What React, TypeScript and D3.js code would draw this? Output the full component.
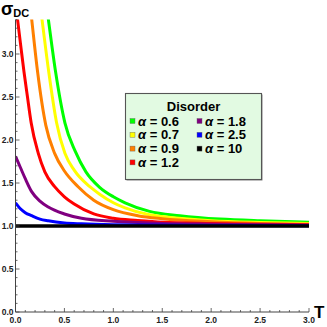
import * as d3 from "d3"
import React from "react"

// series (T, sigma_DC)
const tGreen = [0.31, 0.335, 0.41, 0.505, 0.61, 0.72, 0.86, 1.0, 1.12, 1.37, 1.68, 2.09, 2.5, 3.0]
const sGreen = [3.62, 3.41, 2.79, 2.2, 1.87, 1.63, 1.45, 1.34, 1.27, 1.17, 1.12, 1.08, 1.06, 1.045]

const tYellow = [0.245, 0.27, 0.34, 0.42, 0.505, 0.6, 0.76, 0.86, 1.0, 1.12, 1.37, 1.5, 2.0, 2.5, 3.0]
const sYellow = [3.63, 3.41, 2.79, 2.2, 1.845, 1.65, 1.457, 1.37, 1.27, 1.21, 1.13, 1.11, 1.06, 1.04, 1.03]

const tOrange = [0.14, 0.165, 0.226, 0.31, 0.4, 0.5, 0.64, 0.8, 1.0, 1.25, 1.5, 2.0, 2.5, 3.0]
const sOrange = [3.67, 3.41, 2.79, 2.17, 1.845, 1.64, 1.457, 1.3, 1.19, 1.12, 1.085, 1.05, 1.03, 1.02]

const tRed = [0.0, 0.02, 0.05, 0.087, 0.12, 0.16, 0.233, 0.3, 0.4, 0.5, 0.6, 0.8, 1.0, 1.25, 1.5, 2.0, 2.5, 3.0]
const sRed = [3.6, 3.41, 3.13, 2.79, 2.52, 2.2, 1.845, 1.63, 1.457, 1.34, 1.255, 1.14, 1.09, 1.065, 1.045, 1.03, 1.02, 1.015]

const tPurple = [0.0, 0.05, 0.1, 0.165, 0.25, 0.335, 0.5, 0.675, 1.0, 1.5, 2.0, 3.0]
const sPurple = [1.81, 1.68, 1.55, 1.4, 1.29, 1.22, 1.14, 1.09, 1.055, 1.03, 1.02, 1.01]

const tBlue = [0.0, 0.05, 0.1, 0.165, 0.25, 0.335, 0.5, 0.675, 1.0, 2.0, 3.0]
const sBlue = [1.27, 1.2, 1.155, 1.12, 1.08, 1.06, 1.035, 1.025, 1.015, 1.005, 1.003]

const tBlack = [0.0, 3.0]
const sBlack = [1.0, 1.0]

const alphas = ["0.6", "0.7", "0.9", "1.2", "1.8", "2.5", "10"]
const colors = ["#00ff00", "#ffff00", "#ff8000", "#ff0000", "#800080", "#0000ff", "#000000"]
const seriesT = [tGreen, tYellow, tOrange, tRed, tPurple, tBlue, tBlack]
const seriesS = [sGreen, sYellow, sOrange, sRed, sPurple, sBlue, sBlack]

const xTicks = [0, 0.5, 1, 1.5, 2, 2.5, 3]
const yTicks = [0, 0.5, 1, 1.5, 2, 2.5, 3]

const W = 327
const H = 327
const font = "'Liberation Sans', Arial, sans-serif"
const axisColor = "#444"

export default function App() {
  const x = d3.scaleLinear().domain([0, 3]).range([15.5, 309])
  const y = d3.scaleLinear().domain([0, 3.4]).range([312, 19.6])

  const line = d3
    .line<[number, number]>()
    .x((d) => x(d[0]))
    .y((d) => y(d[1]))
    .curve(d3.curveMonotoneX)

  const minorX = d3.range(0, 3.001, 0.1)
  const minorY = d3.range(0, 3.401, 0.1)

  // legend layout: 4 rows in the first column, 3 in the second
  const legendRow = (i: number) => (i < 4 ? i : i - 4)
  const legendCol = (i: number) => (i < 4 ? 0 : 1)

  return (
    <svg
      width={W}
      height={H}
      viewBox={`0 0 ${W} ${H}`}
      style={{ position: "absolute", left: 0, top: 0, background: "#fff" }}
      fontFamily={font}
    >
      <defs>
        <clipPath id="plot">
          <rect x={x(0)} y={y(3.4)} width={x(3) - x(0) + 2} height={y(0) - y(3.4)} />
        </clipPath>
      </defs>

      <g clipPath="url(#plot)">
        {seriesT.map((ts, i) => (
          <path
            key={alphas[i]}
            d={line(ts.map((t, j) => [t, seriesS[i][j]] as [number, number])) || ""}
            fill="none"
            stroke={colors[i]}
            strokeWidth={i === 6 ? 3.6 : 3}
          />
        ))}
      </g>

      {/* x axis */}
      <line x1={x(0)} x2={x(3)} y1={y(0)} y2={y(0)} stroke={axisColor} strokeWidth={1} />
      {minorX.map((v) => {
        const major = Math.abs(v * 2 - Math.round(v * 2)) < 1e-6
        return (
          <line
            key={"mx" + v}
            x1={x(v)}
            x2={x(v)}
            y1={y(0)}
            y2={y(0) - (major ? 4 : 2)}
            stroke={axisColor}
            strokeWidth={0.8}
          />
        )
      })}
      {xTicks.map((v) => (
        <text
          key={"xl" + v}
          x={x(v)}
          y={y(0) + 11}
          textAnchor="middle"
          fontSize={8.5}
          fontWeight="bold"
          fill="#222"
        >
          {v.toFixed(1)}
        </text>
      ))}

      {/* y axis */}
      <line x1={x(0)} x2={x(0)} y1={y(0)} y2={y(3.4)} stroke={axisColor} strokeWidth={1} />
      {minorY.map((v) => {
        const major = Math.abs(v * 2 - Math.round(v * 2)) < 1e-6
        return (
          <line
            key={"my" + v}
            x1={x(0)}
            x2={x(0) + (major ? 4 : 2)}
            y1={y(v)}
            y2={y(v)}
            stroke={axisColor}
            strokeWidth={0.8}
          />
        )
      })}
      {yTicks.map((v) => (
        <text
          key={"yl" + v}
          x={x(0) - 2}
          y={y(v) + 3}
          textAnchor="end"
          fontSize={8.5}
          fontWeight="bold"
          fill="#222"
        >
          {v.toFixed(1)}
        </text>
      ))}

      {/* axis labels */}
      <text x={1} y={14.5} fontSize={18} fontWeight="bold" fill="#000">
        σ
        <tspan fontSize={11} dy={2.5}>DC</tspan>
      </text>
      <text x={314} y={318} fontSize={17} fontWeight="bold" fill="#000">
        T
      </text>

      {/* legend */}
      <rect x={126.5} y={94.5} width={136} height={86} fill="#888" />
      <rect x={125.5} y={93.5} width={136} height={86} fill="#e2fae2" stroke="#555" strokeWidth={1.1} />
      <text x={193.5} y={111} textAnchor="middle" fontSize={13} fontWeight="bold" fill="#000">
        Disorder
      </text>
      {alphas.map((a, i) => {
        const cx = 130 + legendCol(i) * 67
        const cy = 121 + legendRow(i) * 13.8
        return (
          <g key={"lg" + a}>
            <rect x={cx} y={cy - 2.5} width={5} height={5} fill={colors[i]} stroke="#666" strokeWidth={0.4} />
            <text x={cx + 8} y={cy + 4.5} fontSize={13} fontWeight="bold" fill="#000">
              <tspan fontStyle="italic">α</tspan>
              {" = " + a}
            </text>
          </g>
        )
      })}
    </svg>
  )
}
